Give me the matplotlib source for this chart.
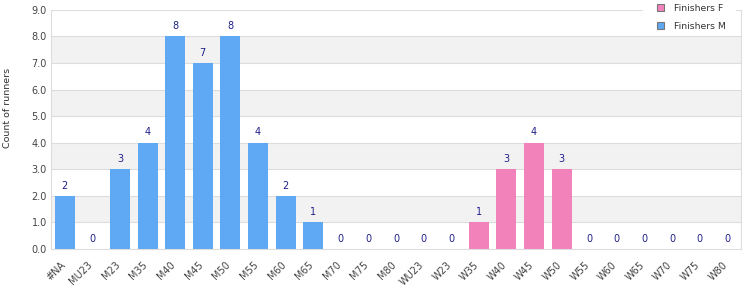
import matplotlib.pyplot as plt
from matplotlib.patches import Rectangle
import matplotlib.transforms as mtransforms
import numpy as np

categories = ['#NA', 'MU23', 'M23', 'M35', 'M40', 'M45', 'M50', 'M55', 'M60', 'M65',
              'M70', 'M75', 'M80', 'WU23', 'W23', 'W35', 'W40', 'W45', 'W50', 'W55',
              'W60', 'W65', 'W70', 'W75', 'W80']
finishers_m = [2, 0, 3, 4, 8, 7, 8, 4, 2, 1, 0, 0, 0, 0, 0, 0, 0, 0, 0, 0,
               0, 0, 0, 0, 0]
finishers_f = [0, 0, 0, 0, 0, 0, 0, 0, 0, 0, 0, 0, 0, 0, 0, 1, 3, 4, 3, 0,
               0, 0, 0, 0, 0]

blue = '#5fa8f3'
pink = '#f282ba'
grid = '#dddddd'
fs = 7

fig = plt.figure(figsize=(7.5, 3), dpi=100)
ax = fig.add_axes([0.068, 0.17, 0.92, 0.797])

x = np.arange(len(categories))
m = np.array(finishers_m)
f = np.array(finishers_f)

# alternate shaded bands
for lo in [1, 3, 5, 7]:
    ax.axhspan(lo, lo + 1, color='#f2f2f2', zorder=0, lw=0)
for yv in range(1, 10):
    ax.axhline(yv, color=grid, lw=0.8, zorder=1)

ax.bar(x, f, width=0.72, color=pink, zorder=2, label='Finishers F')
ax.bar(x, m, width=0.72, color=blue, zorder=2, label='Finishers M')

totals = m + f
for i, v in enumerate(totals):
    ax.text(i, v + 0.2, str(v), ha='center', va='bottom', fontsize=fs,
            color='#1f1f8a', zorder=3)

ax.set_xlim(-0.5, len(categories) - 0.5)
ax.set_ylim(0, 9)
ax.set_yticks(np.arange(0, 10, 1))
ax.set_yticklabels(['%.1f' % v for v in range(10)])
ax.set_xticks(x)
ax.set_xticklabels(categories, rotation=45, ha='right', rotation_mode='anchor')
ax.tick_params(axis='both', length=0, labelsize=fs, colors='#444444', pad=3)
ax.tick_params(axis='x', pad=5)
shift = mtransforms.ScaledTranslation(-5 / 100, -4 / 100, fig.dpi_scale_trans)
for lab in ax.get_xticklabels():
    lab.set_transform(lab.get_transform() + shift)

ax.set_ylabel('Count of runners', fontsize=6.8, color='#333333')
ax.yaxis.set_label_coords(-0.0565, 0.59)

for s in ['left', 'bottom', 'right']:
    ax.spines[s].set_color(grid)
ax.spines['top'].set_visible(False)

# white box behind the legend, cutting the top gridline
ax.add_patch(Rectangle((0.857, 0.89), 0.124, 0.11, transform=fig.transFigure,
                       facecolor='white', edgecolor='none', clip_on=False, zorder=4))

leg = ax.legend(loc='upper right', bbox_to_anchor=(0.984, 1.04), fontsize=6.7,
                frameon=False, handlelength=0.75, handleheight=0.75,
                handletextpad=1.15, borderpad=0.4, labelspacing=0.95,
                borderaxespad=0)
leg.set_zorder(5)
for h in leg.legend_handles:
    h.set_edgecolor('#777777')
    h.set_linewidth(0.8)
for t in leg.get_texts():
    t.set_color('#333333')

fig.savefig('out.png', dpi=100)
